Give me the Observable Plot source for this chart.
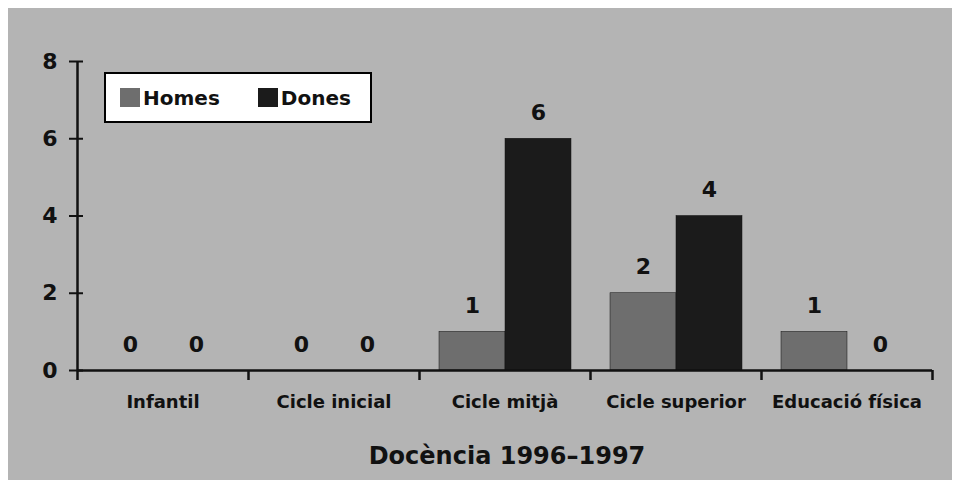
<!DOCTYPE html>
<html>
<head>
<meta charset="utf-8">
<script src="https://cdn.jsdelivr.net/npm/d3@7"></script>
<script src="https://cdn.jsdelivr.net/npm/@observablehq/plot@0.6"></script>
<style>
  html, body { margin: 0; padding: 0; background: #ffffff; }
  #panel { position: absolute; left: 8px; top: 8px; width: 944px; height: 472px; background: #b4b4b4; overflow: hidden; font-family: "DejaVu Sans", sans-serif; }
  #chart { position: absolute; left: 0; top: 0; }
  #legend { position: absolute; left: 96px; top: 64px; width: 264px; height: 47px; background: #fff; border: 2px solid #000; display: flex; align-items: center; font-weight: bold; font-size: 20px; color: #111; }
  .item { display: flex; align-items: center; }
  .sw { width: 20px; height: 19px; margin-right: 3px; }
  #title { position: absolute; left: 0; width: 998px; top: 434px; text-align: center; font-weight: bold; font-size: 24px; line-height: 1.2; color: #111; }
</style>
</head>
<body>
<div id="panel">
  <div id="chart"></div>
  <div id="legend"></div>
  <div id="title"></div>
</div>
<script>
const categories = ["Infantil", "Cicle inicial", "Cicle mitjà", "Cicle superior", "Educació física"];
const series = ["Homes", "Dones"];
const homes = [0, 0, 1, 2, 1];
const dones = [0, 0, 6, 4, 0];
const yTicks = [0, 2, 4, 6, 8];
const colors = ["#6e6e6e", "#1b1b1b"];
const title = "Docència 1996–1997";

const data = categories.flatMap((c, i) => [
  {cat: c, serie: "Homes", value: homes[i]},
  {cat: c, serie: "Dones", value: dones[i]}
]);

const plot = Plot.plot({
  width: 944,
  height: 410,
  marginLeft: 68,
  marginRight: 20,
  marginTop: 53,
  marginBottom: 48,
  style: {background: "transparent", color: "#111", fontFamily: "DejaVu Sans, sans-serif", overflow: "visible"},
  fx: {domain: categories, padding: 0, label: null},
  x: {domain: series, paddingInner: 0, paddingOuter: 0.295, axis: null},
  y: {domain: [0, 8], ticks: yTicks, label: null},
  color: {domain: series, range: colors},
  marks: [
    Plot.barY(data, {fx: "cat", x: "serie", y: "value", fill: "serie", stroke: "#111", strokeWidth: 0.5}),
    Plot.text(data, {fx: "cat", x: "serie", y: "value", text: d => String(d.value), dy: -26, fontSize: 22, fontWeight: "bold", fill: "#111"}),
    Plot.ruleY([0], {stroke: "#111", strokeWidth: 2.5}),
    Plot.ruleX(categories, {fx: d => d, x: () => "Dones", dx: 52, y1: 0, y2: 0, insetBottom: -10, stroke: "#111", strokeWidth: 2.5}),
    Plot.ruleX(categories.slice(0, 1), {fx: d => d, x: () => "Homes", dx: -53, y1: 8, y2: 0, insetBottom: -10, stroke: "#111", strokeWidth: 2.5}),
    Plot.axisY({ticks: yTicks, tickSize: 8, tickPadding: 12, tickFormat: d => String(d), fontSize: 22, fontWeight: "bold", strokeWidth: 2, label: null}),
    Plot.axisY({ticks: yTicks, tickSize: -6, text: null, strokeWidth: 2, label: null}),
    Plot.axisFx({anchor: "bottom", tickSize: 0, tickPadding: 25, fontSize: 18, fontWeight: "bold", label: null})
  ]
});
document.getElementById("chart").appendChild(plot);

const legend = document.getElementById("legend");
series.forEach((s, i) => {
  const item = document.createElement("div");
  item.className = "item";
  item.style.marginLeft = i === 0 ? "14px" : "38px";
  const sw = document.createElement("div");
  sw.className = "sw";
  sw.style.background = colors[i];
  const t = document.createElement("span");
  t.textContent = s;
  item.appendChild(sw);
  item.appendChild(t);
  legend.appendChild(item);
});
document.getElementById("title").textContent = title;
</script>
</body>
</html>
